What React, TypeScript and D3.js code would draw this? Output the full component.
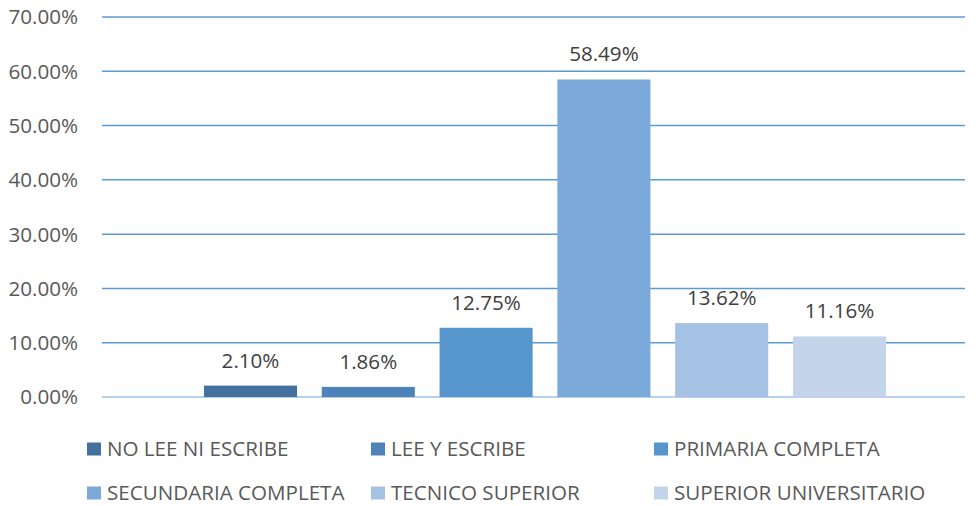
import React from 'react';
import * as d3 from 'd3';

const categories = [
  'NO LEE NI ESCRIBE',
  'LEE Y ESCRIBE',
  'PRIMARIA COMPLETA',
  'SECUNDARIA COMPLETA',
  'TECNICO SUPERIOR',
  'SUPERIOR UNIVERSITARIO',
];
const values = [2.1, 1.86, 12.75, 58.49, 13.62, 11.16];
const colors = ['#44709d', '#4d83b9', '#5795cd', '#7ba9da', '#a5c1e4', '#c4d5eb'];
const yTicks = [0, 10, 20, 30, 40, 50, 60, 70];

const W = 980;
const H = 506;
const FONT = '"Open Sans", sans-serif';

const App: React.FC = () => {
  // plot area
  const left = 102;
  const right = 965;

  const y = d3.scaleLinear().domain([0, 70]).range([397, 17]);

  // bars sit in one Excel-style group
  const x = d3.scaleBand<string>()
    .domain(categories)
    .range([191.6, 898.4])
    .paddingInner(0.21)
    .paddingOuter(0.105);

  const fmt = (v: number) => `${v.toFixed(2)}%`;

  // legend grid: 3 columns, 2 rows
  const legendX = [87, 371, 654];
  const legendY = [449, 493];

  return (
    <svg width={W} height={H} style={{ position: 'absolute', left: 0, top: 0, background: '#fff' }}>
      {/* gridlines */}
      {yTicks.map(t => (
        <line
          key={`g${t}`}
          x1={left}
          x2={right}
          y1={y(t)}
          y2={y(t)}
          stroke={t === 0 ? '#9fc2e7' : '#5b9bd5'}
          strokeWidth={1.5}
        />
      ))}

      {/* y axis labels */}
      {yTicks.map(t => (
        <text
          key={`t${t}`}
          x={78}
          y={y(t)}
          dy="0.36em"
          textAnchor="end"
          fontFamily={FONT}
          fontSize={20.6}
          fill="#595959"
        >
          {fmt(t)}
        </text>
      ))}

      {/* bars */}
      {categories.map((c, i) => (
        <rect
          key={`b${c}`}
          x={x(c)}
          y={y(values[i])}
          width={x.bandwidth()}
          height={y(0) - y(values[i])}
          fill={colors[i]}
        />
      ))}

      {/* data labels */}
      {categories.map((c, i) => (
        <text
          key={`l${c}`}
          x={(x(c) || 0) + x.bandwidth() / 2}
          y={y(values[i]) - 18}
          textAnchor="middle"
          fontFamily={FONT}
          fontSize={20.6}
          fill="#404040"
        >
          {fmt(values[i])}
        </text>
      ))}

      {/* legend */}
      {categories.map((c, i) => {
        const lx = legendX[i % 3];
        const ly = legendY[Math.floor(i / 3)];
        return (
          <g key={`lg${c}`}>
            <rect x={lx} y={ly - 6.5} width={14} height={13} fill={colors[i]} />
            <text
              x={lx + 20}
              y={ly}
              dy="0.36em"
              fontFamily={FONT}
              fontSize={20.6}
              fill="#595959"
            >
              {c}
            </text>
          </g>
        );
      })}
    </svg>
  );
};

export default App;
